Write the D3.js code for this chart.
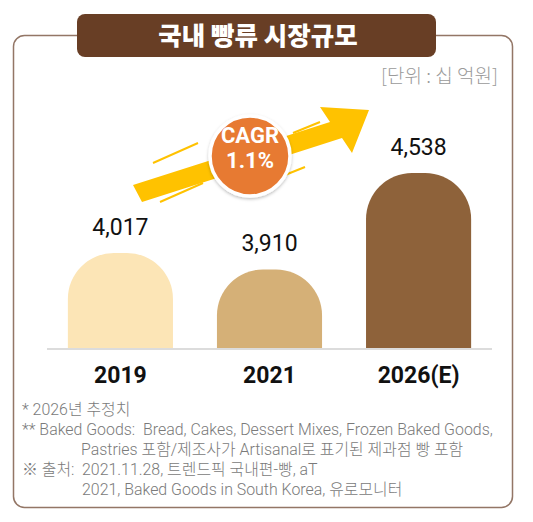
<!DOCTYPE html>
<html>
<head>
<meta charset="utf-8">
<script src="https://d3js.org/d3.v7.min.js"></script>
<style>
  body { margin: 0; background: #fff; }
  svg { display: block; }
  text { font-family: Roboto, "Noto Sans CJK KR", sans-serif; }
  .kr { font-family: "Noto Sans CJK KR", "Noto Sans", sans-serif; }
  .note { font-family: Roboto, "Noto Sans CJK KR", sans-serif; }
</style>
</head>
<body>
<svg width="533" height="522"></svg>
<script>
// chart data
const years = ["2019", "2021", "2026(E)"];
const values = [4017, 3910, 4538];
const barColors = ["#FCE5B6", "#D5B077", "#8E623A"];
const title = "국내 빵류 시장규모";
const unitLabel = "[단위 : 십 억원]";
const cagrLabel = ["CAGR", "1.1%"];
const notes = [
  { x: 22, y: 415, t: "* 2026년 추정치" },
  { x: 22, y: 435, t: "** Baked Goods:  Bread, Cakes, Dessert Mixes, Frozen Baked Goods," },
  { x: 81, y: 455, t: "Pastries 포함/제조사가 Artisanal로 표기된 제과점 빵 포함" },
  { x: 22, y: 475, t: "※ 출처:" },
  { x: 82, y: 475, t: "2021.11.28, 트렌드픽 국내편-빵, aT" },
  { x: 82, y: 495, t: "2021, Baked Goods in South Korea, 유로모니터" }
];

const svg = d3.select("svg");
const baseY = 348;

const x = d3.scaleBand()
    .domain(years)
    .range([47, 492])
    .paddingInner(0.295)
    .paddingOuter(0.14);

const y = d3.scaleLinear()
    .domain([3398, 4538])
    .range([baseY, 173]);

// outer frame
svg.append("rect")
    .attr("x", 13.5).attr("y", 35.5)
    .attr("width", 499).attr("height", 472)
    .attr("rx", 11)
    .attr("fill", "none")
    .attr("stroke", "#937666")
    .attr("stroke-width", 1.5);

// title box
svg.append("rect")
    .attr("x", 77).attr("y", 14)
    .attr("width", 359).attr("height", 43)
    .attr("rx", 8)
    .attr("fill", "#683E25");

svg.append("text")
    .attr("class", "kr")
    .attr("x", 258).attr("y", 45)
    .attr("text-anchor", "middle")
    .attr("fill", "#fff")
    .attr("font-size", 25.5)
    .attr("font-weight", 900)
    .text(title);

const unit = svg.append("text")
    .attr("class", "kr")
    .attr("x", 498).attr("y", 83)
    .attr("text-anchor", "end")
    .attr("fill", "#9a9a9a")
    .attr("font-size", 17)
    .attr("font-weight", 300)
    .style("white-space", "pre")
    .text(unitLabel);
// stretch to the measured span of the reference (about 117px)
unit.attr("font-size", 17 * 117 / unit.node().getComputedTextLength());

// growth arrow (decoration)
svg.append("polygon")
    .attr("points", "133,185 330,122 320,107 369,110 352,153 342,138 142,202")
    .attr("fill", "#FFC200");

const streaks = [
  [153, 163, 198, 143],
  [293, 133, 320, 122],
  [160, 202, 203, 183],
  [280, 177, 305, 167]
];
svg.selectAll("line.streak")
  .data(streaks)
  .join("line")
    .attr("class", "streak")
    .attr("x1", d => d[0]).attr("y1", d => d[1])
    .attr("x2", d => d[2]).attr("y2", d => d[3])
    .attr("stroke", "#FFC200")
    .attr("stroke-width", 2);

// CAGR badge
const defs = svg.append("defs");
const f = defs.append("filter").attr("id", "sh")
    .attr("x", "-30%").attr("y", "-30%").attr("width", "160%").attr("height", "160%");
f.append("feDropShadow")
    .attr("dx", 0).attr("dy", 1.5)
    .attr("stdDeviation", 1.5)
    .attr("flood-color", "#000")
    .attr("flood-opacity", 0.25);

svg.append("circle")
    .attr("cx", 250).attr("cy", 156)
    .attr("r", 40)
    .attr("fill", "#E77A33")
    .attr("stroke", "#fff")
    .attr("stroke-width", 3.5)
    .attr("filter", "url(#sh)");

svg.selectAll("text.cagr")
  .data(cagrLabel)
  .join("text")
    .attr("class", "cagr")
    .attr("x", 250)
    .attr("y", (d, i) => 143 + i * 25)
    .attr("text-anchor", "middle")
    .attr("fill", "#fff")
    .attr("font-size", 22)
    .attr("font-weight", 700)
    .text(d => d);

// bars with rounded tops
function roundTop(x0, y0, w, h, r) {
  r = Math.min(r, w / 2, h);
  return `M${x0},${y0 + h}V${y0 + r}A${r},${r} 0 0 1 ${x0 + r},${y0}` +
         `H${x0 + w - r}A${r},${r} 0 0 1 ${x0 + w},${y0 + r}V${y0 + h}Z`;
}

const data = years.map((yr, i) => ({ year: yr, value: values[i], color: barColors[i] }));

svg.selectAll("path.bar")
  .data(data)
  .join("path")
    .attr("class", "bar")
    .attr("d", d => roundTop(x(d.year), y(d.value), x.bandwidth(), baseY - y(d.value), 46))
    .attr("fill", d => d.color);

// baseline
svg.append("line")
    .attr("x1", 47).attr("x2", 492)
    .attr("y1", baseY + 1).attr("y2", baseY + 1)
    .attr("stroke", "#dcdcdc")
    .attr("stroke-width", 2);

svg.selectAll("text.val")
  .data(data)
  .join("text")
    .attr("class", "val")
    .attr("x", d => x(d.year) + x.bandwidth() / 2)
    .attr("y", d => y(d.value) - 18)
    .attr("text-anchor", "middle")
    .attr("fill", "#111")
    .attr("font-size", 23)
    .text(d => d3.format(",")(d.value));

svg.selectAll("text.cat")
  .data(data)
  .join("text")
    .attr("class", "cat")
    .attr("x", d => x(d.year) + x.bandwidth() / 2)
    .attr("y", 383)
    .attr("text-anchor", "middle")
    .attr("fill", "#111")
    .attr("font-size", 23)
    .attr("font-weight", 700)
    .text(d => d.year);

// footnotes
const noteText = svg.selectAll("text.note")
  .data(notes)
  .join("text")
    .attr("class", "note")
    .attr("x", d => d.x)
    .attr("y", d => d.y)
    .attr("fill", "#7a7a7a")
    .attr("font-size", 15)
    .attr("font-weight", 300)
    .style("white-space", "pre")
    .text(d => d.t);

// the long line spans about x 22..493 in the reference
const longW = noteText.filter((d, i) => i === 1).node().getComputedTextLength();
noteText.attr("font-size", 15 * 471 / longW);
</script>
</body>
</html>
